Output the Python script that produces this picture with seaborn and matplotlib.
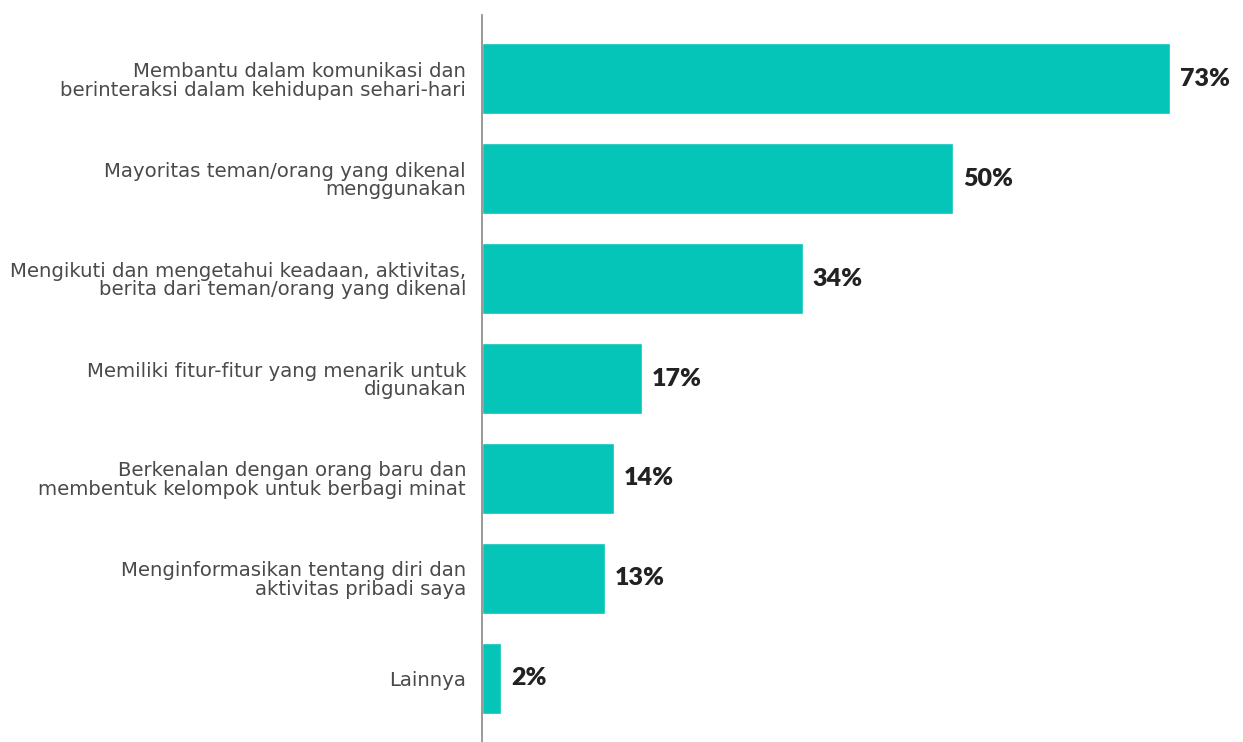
import seaborn as sns
import matplotlib.pyplot as plt
import pandas as pd

sns.set_theme(style="white")
plt.rcParams['font.family'] = ['DejaVu Sans']

reasons = [
    "Membantu dalam komunikasi dan\nberinteraksi dalam kehidupan sehari-hari",
    "Mayoritas teman/orang yang dikenal\nmenggunakan",
    "Mengikuti dan mengetahui keadaan, aktivitas,\nberita dari teman/orang yang dikenal",
    "Memiliki fitur-fitur yang menarik untuk\ndigunakan",
    "Berkenalan dengan orang baru dan\nmembentuk kelompok untuk berbagi minat",
    "Menginformasikan tentang diri dan\naktivitas pribadi saya",
    "Lainnya",
]
percent = [73, 50, 34, 17, 14, 13, 2]

df = pd.DataFrame({"reason": reasons, "percent": percent})

fig = plt.figure(figsize=(12.43, 7.42), dpi=100)
ax = fig.add_axes([482 / 1243, 0, 761 / 1243, 727 / 742])

sns.barplot(data=df, x="percent", y="reason", orient="h", color="#05C4B8",
            width=0.71, saturation=1, ax=ax)

for i, v in enumerate(percent):
    ax.text(v + 1.05, i, f"{v}%", va="center", ha="left", fontsize=18,
            fontweight="heavy", color="#222222", family=["Lato", "DejaVu Sans"])

ax.set_xlim(0, 80.7)
ax.set_ylim(6.64, -0.64)
ax.set_xlabel("")
ax.set_ylabel("")
ax.set_xticks([])
ax.tick_params(axis="y", length=0, pad=11.5)
for lbl in ax.get_yticklabels():
    lbl.set_fontsize(14.2)
    lbl.set_color("#4a4a4a")
    lbl.set_linespacing(0.98)
    lbl.set_ha("right")

for s in ["top", "right", "bottom"]:
    ax.spines[s].set_visible(False)
ax.spines["left"].set_color("#888888")
ax.spines["left"].set_linewidth(1.2)

fig.savefig("out.png", dpi=100)
